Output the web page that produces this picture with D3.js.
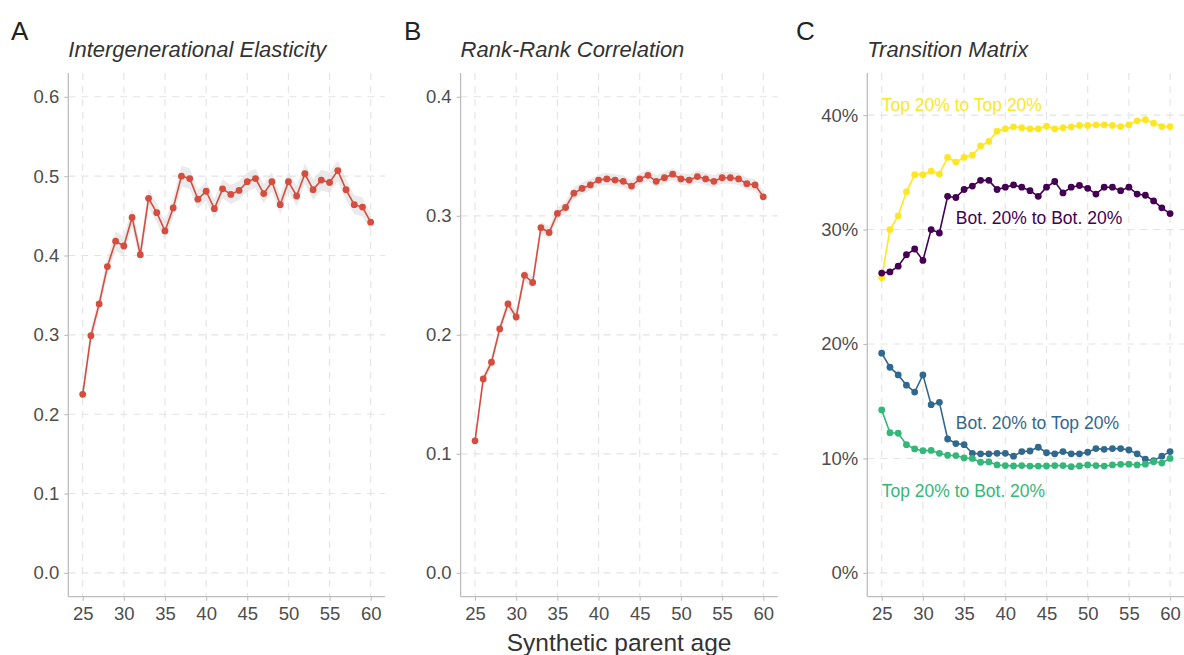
<!DOCTYPE html>
<html><head><meta charset="utf-8">
<script src="https://cdn.jsdelivr.net/npm/d3@7"></script>
<style>body{margin:0;background:#fff}svg{display:block;font-family:"Liberation Sans",Arial,sans-serif}</style>
</head><body><svg id="c" width="1184" height="655"></svg>
<script>
const ages = d3.range(25, 61);
const xTicks = [25,30,35,40,45,50,55,60];
const igeValues = [0.225,0.299,0.339,0.386,0.418,0.412,0.448,0.401,0.472,0.454,0.431,0.460,0.500,0.497,0.471,0.481,0.459,0.484,0.477,0.482,0.493,0.497,0.478,0.493,0.464,0.493,0.475,0.503,0.483,0.495,0.492,0.507,0.483,0.464,0.461,0.442];
const igeSE = [0.008,0.009,0.010,0.011,0.012,0.012,0.012,0.012,0.012,0.012,0.012,0.012,0.013,0.013,0.012,0.012,0.012,0.012,0.012,0.012,0.012,0.012,0.012,0.012,0.012,0.013,0.013,0.013,0.013,0.013,0.013,0.013,0.013,0.012,0.012,0.011];
const rrcValues = [0.111,0.163,0.177,0.205,0.226,0.215,0.250,0.244,0.290,0.286,0.302,0.307,0.319,0.323,0.326,0.330,0.331,0.330,0.329,0.325,0.331,0.334,0.329,0.332,0.335,0.331,0.330,0.333,0.331,0.329,0.332,0.332,0.331,0.327,0.326,0.316];
const rrcSE = [0.004,0.004,0.004,0.005,0.005,0.005,0.005,0.005,0.005,0.005,0.005,0.005,0.005,0.005,0.005,0.005,0.005,0.005,0.005,0.005,0.005,0.005,0.005,0.005,0.005,0.005,0.005,0.005,0.005,0.005,0.005,0.005,0.005,0.005,0.005,0.005];
const topTop = [25.8,30.0,31.2,33.3,34.8,34.8,35.1,34.85,36.3,35.9,36.3,36.5,37.3,37.7,38.6,38.8,38.98,38.9,38.8,38.8,39.04,38.8,38.9,38.98,39.1,39.1,39.15,39.15,39.1,39.0,39.15,39.5,39.6,39.3,39.0,39.0];
const botBot = [26.2,26.3,26.8,27.8,28.3,27.3,30.0,29.7,32.9,32.8,33.5,33.8,34.3,34.3,33.5,33.7,33.9,33.7,33.4,32.9,33.7,34.2,33.2,33.7,33.85,33.6,33.1,33.7,33.7,33.4,33.7,33.1,33.0,32.5,31.9,31.4];
const botTop = [19.2,17.97,17.3,16.4,15.8,17.3,14.7,14.9,11.7,11.3,11.2,10.45,10.4,10.4,10.45,10.45,10.2,10.6,10.65,10.98,10.5,10.4,10.6,10.4,10.4,10.54,10.86,10.8,10.86,10.86,10.74,10.4,9.93,9.8,10.2,10.6];
const topBot = [14.24,12.25,12.2,11.2,10.83,10.68,10.7,10.45,10.28,10.25,10.04,10.0,9.67,9.7,9.43,9.38,9.34,9.38,9.33,9.33,9.34,9.38,9.38,9.28,9.34,9.43,9.38,9.33,9.43,9.49,9.5,9.43,9.5,9.72,9.6,10.0];
const seriesNames = ["Top 20% to Top 20%","Bot. 20% to Bot. 20%","Bot. 20% to Top 20%","Top 20% to Bot. 20%"];
const seriesColors = ["#FDE725","#440154","#31688E","#35B779"];
const yTicksA = [0,0.1,0.2,0.3,0.4,0.5,0.6];
const yTicksB = [0,0.1,0.2,0.3,0.4];
const yTicksC = [0,10,20,30,40];

const svg = d3.select("#c");
const plotTop = 73, plotBottom = 596.7;
const red = "#D44D3F";

function panel(opt){
  const x = d3.scaleLinear().domain([23.25,61.75]).range([opt.left, opt.right]);
  const y = d3.scaleLinear().domain(opt.ydom).range([plotBottom, plotTop]);
  const g = svg.append("g");
  g.selectAll(".gx").data(xTicks).join("line")
    .attr("x1",d=>x(d)).attr("x2",d=>x(d)).attr("y1",plotTop).attr("y2",plotBottom)
    .attr("stroke","#e3e3e3").attr("stroke-width",1.1).attr("stroke-dasharray","7,6");
  g.selectAll(".gy").data(opt.yticks).join("line")
    .attr("x1",opt.left).attr("x2",opt.right).attr("y1",d=>y(d)).attr("y2",d=>y(d))
    .attr("stroke","#e3e3e3").attr("stroke-width",1.1).attr("stroke-dasharray","7,6");
  const ax = g.append("g").attr("transform",`translate(0,${plotBottom})`)
    .call(d3.axisBottom(x).tickValues(xTicks).tickSize(4).tickPadding(4).tickFormat(d3.format("d")));
  const ay = g.append("g").attr("transform",`translate(${opt.left},0)`)
    .call(d3.axisLeft(y).tickValues(opt.yticks).tickSize(4).tickPadding(5).tickFormat(opt.fmt));
  [ax,ay].forEach(a=>{
    a.select(".domain").attr("stroke","#bdbdbd").attr("stroke-width",1.3);
    a.selectAll(".tick line").attr("stroke","#bdbdbd").attr("stroke-width",1.1);
    a.selectAll(".tick text").attr("fill","#4d4d4d").attr("font-size",18.5).attr("font-family","Liberation Sans, Arial, sans-serif");
  });
  ax.select(".domain").attr("d",`M${opt.left},0H${opt.right}`);
  ay.select(".domain").attr("d",`M0,${plotTop}V${plotBottom}`);
  ax.selectAll(".tick text").attr("dy","0.85em");
  svg.append("text").attr("x",opt.letterX).attr("y",40).attr("font-size",26).attr("fill","#222").text(opt.letter);
  svg.append("text").attr("x",opt.left).attr("y",57).attr("font-size",22).attr("font-style","italic").attr("fill","#333").text(opt.title);
  return {x,y,g};
}

function drawSeries(p, vals, se, color){
  const data = ages.map((a,i)=>({a, v:vals[i], s: se ? se[i] : 0}));
  if (se) {
    p.g.append("path").datum(data)
      .attr("d", d3.area().x(d=>p.x(d.a)).y0(d=>p.y(d.v-d.s)).y1(d=>p.y(d.v+d.s)))
      .attr("fill","#d6d6d6").attr("opacity",0.5);
  }
  p.g.append("path").datum(data)
    .attr("d", d3.line().x(d=>p.x(d.a)).y(d=>p.y(d.v)))
    .attr("fill","none").attr("stroke",color).attr("stroke-width",1.6);
  p.g.selectAll(null).data(data).join("circle")
    .attr("cx",d=>p.x(d.a)).attr("cy",d=>p.y(d.v)).attr("r",3.4).attr("fill",color);
}

const pA = panel({left:68.3,right:385.1,ydom:[-0.03,0.63],yticks:yTicksA,fmt:d3.format(".1f"),letter:"A",letterX:11,title:"Intergenerational Elasticity"});
drawSeries(pA, igeValues, igeSE, red);
const pB = panel({left:460.6,right:777.7,ydom:[-0.02,0.42],yticks:yTicksB,fmt:d3.format(".1f"),letter:"B",letterX:404,title:"Rank-Rank Correlation"});
drawSeries(pB, rrcValues, rrcSE, red);
const pC = panel({left:867.3,right:1184.5,ydom:[-2.08,43.68],yticks:yTicksC,fmt:d=>d+"%",letter:"C",letterX:796,title:"Transition Matrix"});
const cSeries = [topTop, botBot, botTop, topBot];
cSeries.forEach((s,i)=>drawSeries(pC, s, null, seriesColors[i]));
const labelPos = [[25,40.9],[34,31.0],[34,13.1],[25,7.15]];
labelPos.forEach((lp,i)=>{
  svg.append("text").attr("x",pC.x(lp[0])).attr("y",pC.y(lp[1])).attr("dy","0.35em")
    .attr("font-size",17.5).attr("fill",seriesColors[i]).text(seriesNames[i]);
});
svg.append("text").attr("x",(pB.x(23.25)+pB.x(61.75))/2).attr("y",651).attr("text-anchor","middle")
  .attr("font-size",24.5).attr("fill","#333").text("Synthetic parent age");
</script></body></html>
